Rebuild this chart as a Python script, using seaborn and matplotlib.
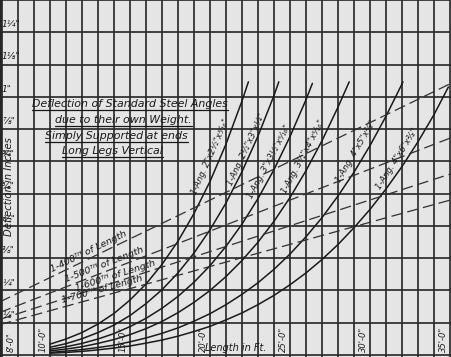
import numpy as np
import pandas as pd
import matplotlib
matplotlib.use("Agg")
import matplotlib.pyplot as plt
import seaborn as sns

# ---------------- data ----------------
angle_labels = [
    '1-Ang. 2"x2½"x³⁄₁₆"',
    '1-Ang. 2½"x3"x¼"',
    '1-Ang. 3"x3½"x⁵⁄₁₆"',
    '1-Ang. 3½"x4"x⁵⁄₁₆"',
    '1-Ang. 4"x5"x⅜"',
    '1-Ang. 4"x6"x⅜"',
]

ang1_len = [10, 11, 12, 13, 14, 15, 16, 17, 18, 19, 20, 21, 22, 22.4]
ang1_defl = [0.042, 0.062, 0.087, 0.120, 0.161, 0.213, 0.275, 0.351, 0.441, 0.548, 0.672, 0.817, 0.984, 1.058]

ang2_len = [10, 11, 12, 13, 14, 15, 16, 17, 18, 19, 20, 21, 22, 23, 24, 24.3]
ang2_defl = [0.030, 0.044, 0.063, 0.087, 0.116, 0.153, 0.199, 0.253, 0.318, 0.395, 0.485, 0.589, 0.710, 0.848, 1.005, 1.058]

ang3_len = [10, 11, 12, 13, 14, 15, 16, 17, 18, 19, 20, 21, 22, 23, 24, 25, 26, 26.4]
ang3_defl = [0.022, 0.032, 0.045, 0.062, 0.083, 0.110, 0.142, 0.181, 0.227, 0.282, 0.346, 0.421, 0.507, 0.606, 0.718, 0.846, 0.989, 1.052]

ang4_len = [10, 11, 12, 13, 14, 15, 16, 17, 18, 19, 20, 21, 22, 23, 24, 25, 26, 27, 28, 28.7]
ang4_defl = [0.016, 0.023, 0.032, 0.045, 0.060, 0.079, 0.102, 0.130, 0.164, 0.204, 0.250, 0.304, 0.366, 0.437, 0.518, 0.610, 0.714, 0.830, 0.960, 1.058]

ang5_len = [10, 11, 12, 13, 14, 15, 16, 17, 18, 19, 20, 21, 22, 23, 24, 25, 26, 27, 28, 29, 30, 31, 32, 32.06]
ang5_defl = [0.010, 0.015, 0.021, 0.029, 0.038, 0.051, 0.066, 0.084, 0.105, 0.131, 0.160, 0.195, 0.235, 0.280, 0.332, 0.391, 0.458, 0.532, 0.616, 0.708, 0.811, 0.925, 1.050, 1.058]

ang6_len = [10, 11, 12, 13, 14, 15, 16, 17, 18, 19, 20, 21, 22, 23, 24, 25, 26, 27, 28, 29, 30, 31, 32, 33, 34, 34.9]
ang6_defl = [0.007, 0.010, 0.014, 0.020, 0.027, 0.035, 0.046, 0.058, 0.073, 0.091, 0.111, 0.136, 0.163, 0.195, 0.231, 0.272, 0.318, 0.370, 0.428, 0.493, 0.564, 0.643, 0.730, 0.826, 0.931, 1.038]

# limiting-deflection lines (fraction of length)
limit_labels = ["1-400ᵀᴴ of Length", "1-500ᵀᴴ of Length", "1-600ᵀᴴ of Length", "1-700ᵀᴴ of Length"]
limit_len = [6.875, 35.125]
limit400_defl = [0.206, 1.054]
limit500_defl = [0.165, 0.843]
limit600_defl = [0.138, 0.703]
limit700_defl = [0.118, 0.602]

x_tick_vals = [8, 10, 15, 20, 25, 30, 35]
x_tick_labels = ["8'-0\"", "10'-0\"", "15'-0\"", "20'-0\"", "25'-0\"", "30'-0\"", "35'-0\""]
y_tick_vals = [0.125, 0.25, 0.375, 0.5, 0.625, 0.75, 0.875, 1.0, 1.125, 1.25]
y_tick_labels = ['⅛"', '¼"', '⅜"', '½"', '⅝"', '¾"', '⅞"', '1"', '1⅛"', '1¼"']

title_lines = ["Deflection of Standard Steel Angles",
               "due to their own Weight.",
               "Simply Supported at ends",
               "Long Legs Vertical"]

# ---------------- styling ----------------
sns.set_style("white")
plt.rcParams['font.family'] = ['DejaVu Sans']
BG = "#e5e5e5"
INK = "#1a1a1a"

fig = plt.figure(figsize=(4.52, 3.57), dpi=100, facecolor=BG)
ax = fig.add_axes([0, 0, 1, 1])
ax.set_facecolor(BG)
ax.set_xlim(6.875, 35.125)
ax.set_ylim(-0.0077, 1.3654)

# grid: every foot, every 1/8 inch
ax.set_xticks(np.arange(7, 36, 1))
ax.set_yticks(np.arange(0, 1.376, 0.125))
ax.grid(True, color="#262626", lw=1.2)
ax.tick_params(length=0, labelbottom=False, labelleft=False)
for s in ax.spines.values():
    s.set_visible(False)
ax.spines['left'].set_visible(True)
ax.spines['left'].set_linewidth(2.2)
ax.spines['left'].set_color("#262626")
ax.set_axisbelow(True)

# angle curves
ang_lens = [ang1_len, ang2_len, ang3_len, ang4_len, ang5_len, ang6_len]
ang_defls = [ang1_defl, ang2_defl, ang3_defl, ang4_defl, ang5_defl, ang6_defl]
for L, D in zip(ang_lens, ang_defls):
    sns.lineplot(x=L, y=D, ax=ax, color=INK, lw=1.1, sort=False, estimator=None)

# limit lines
for D in [limit400_defl, limit500_defl, limit600_defl, limit700_defl]:
    sns.lineplot(x=limit_len, y=D, ax=ax, color="#303030", lw=0.9,
                 linestyle=(0, (9, 4)), estimator=None)

# ---------------- text ----------------
tfont = dict(style='italic', color=INK)

# y tick labels (inside, above each line)
for v, lab in zip(y_tick_vals, y_tick_labels):
    ax.text(7.0, v + 0.012, lab, fontsize=6.5, ha='left', va='bottom', **tfont)

# x tick labels (inside, rotated, left of each line)
for v, lab in zip(x_tick_vals, x_tick_labels):
    ax.text(v - 0.42, 0.012, lab, fontsize=6, rotation=90, ha='center', va='bottom', **tfont)

ax.text(7.42, 0.654, "Deflection in Inches", rotation=90, fontsize=7.2,
        ha='center', va='center', **tfont)
ax.text(19.7, 0.027, "Length in Ft.", fontsize=7, ha='left', va='center', **tfont)

# title block (underlined)
title_pos = [(15.0, 0.973), (14.6, 0.912), (14.16, 0.848), (13.9, 0.790)]
title_texts = []
for (x, y), line in zip(title_pos, title_lines):
    title_texts.append(ax.text(x, y, line, fontsize=7.9, ha='center', va='center', **tfont))

# curve labels (just left of each curve)
curve_lab_pos = [(20.06, 0.769, 66), (22.31, 0.796, 65), (23.69, 0.75, 62),
                 (25.8, 0.769, 62), (29.1, 0.788, 59.5), (31.7, 0.758, 57.5)]
for (x, y, r), lab in zip(curve_lab_pos, angle_labels):
    ax.text(x, y, lab, fontsize=6, rotation=r, ha='center', va='center',
            rotation_mode='anchor', **tfont)

# limit-line labels, sitting on their lines
limit_lab_pos = [(12.56, 12 * 12.56 / 400, 26.0), (13.5, 12 * 13.5 / 500, 21.3),
                 (14.19, 12 * 14.19 / 600, 18.0), (13.31, 12 * 13.31 / 700, 15.6)]
for (x, y, r), lab in zip(limit_lab_pos, limit_labels):
    ax.text(x, y + 0.008, lab, fontsize=6.8, rotation=r, ha='center', va='bottom',
            rotation_mode='anchor', **tfont)

# underline the title block
fig.canvas.draw()
renderer = fig.canvas.get_renderer()
inv = ax.transData.inverted()
for t in title_texts:
    bb = t.get_window_extent(renderer)
    (x0, y0), (x1, _) = inv.transform([(bb.x0, bb.y0 - 1), (bb.x1, bb.y0 - 1)])
    ax.plot([x0, x1], [y0, y0], color=INK, lw=0.9)

fig.savefig("out.png", dpi=100, facecolor=BG)
